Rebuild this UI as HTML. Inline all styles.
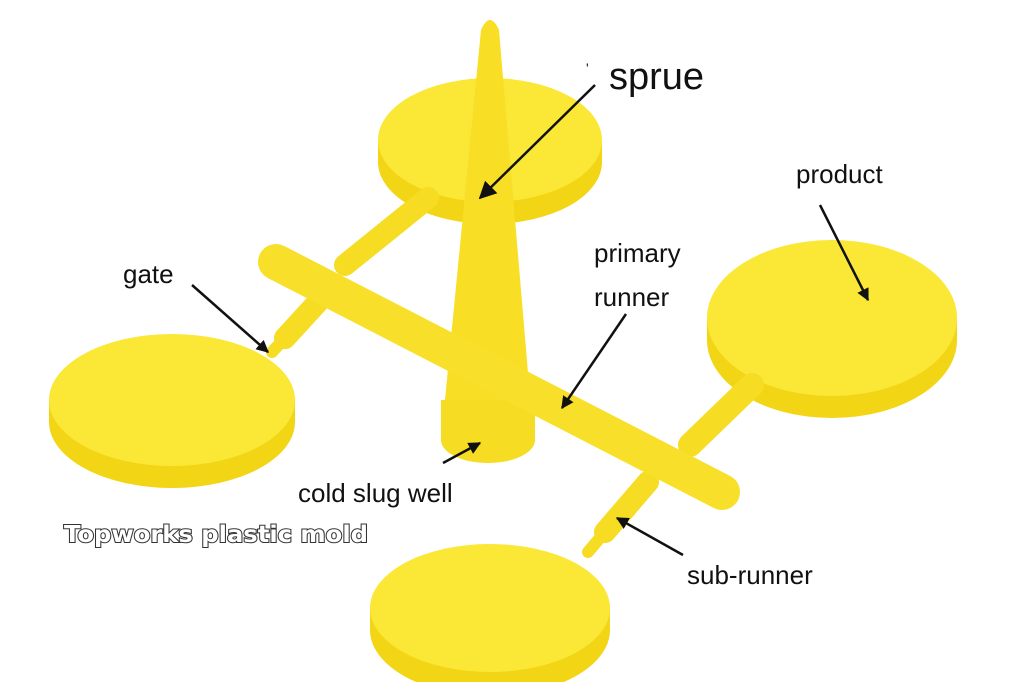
<!DOCTYPE html>
<html><head><meta charset="utf-8"><style>
html,body{margin:0;padding:0;background:#fff;}
svg{display:block}
text{font-family:"Liberation Sans","DejaVu Sans",sans-serif;fill:#111;}
</style></head><body>
<svg width="1024" height="682" viewBox="0 0 1024 682" xmlns="http://www.w3.org/2000/svg">
<defs>
<marker id="ah" viewBox="0 0 10 10" refX="9" refY="5" markerWidth="7" markerHeight="7" orient="auto"><path d="M0,0 L10,5 L0,10 z" fill="#111"/></marker>
<marker id="ah2" viewBox="0 0 10 10" refX="9" refY="5" markerWidth="5" markerHeight="5" orient="auto"><path d="M0,0 L10,5 L0,10 z" fill="#111"/></marker>
</defs>
<rect width="1024" height="682" fill="#fff"/>

<!-- top disc -->
<ellipse cx="490" cy="162" rx="112" ry="62" fill="#f2d514"/>
<rect x="378" y="140" width="224" height="22" fill="#f2d514"/>
<ellipse cx="490" cy="140" rx="112" ry="62" fill="#fbe736"/>

<!-- right disc -->
<ellipse cx="832" cy="340" rx="125" ry="78" fill="#f2d514"/>
<rect x="707" y="318" width="250" height="22" fill="#f2d514"/>
<ellipse cx="832" cy="318" rx="125" ry="78" fill="#fbe736"/>

<!-- branches -->
<g stroke-linecap="round" fill="none">
<line x1="345" y1="265" x2="428" y2="198" stroke="#f6dc22" stroke-width="22"/>
<line x1="690" y1="445" x2="752" y2="385" stroke="#f6dc22" stroke-width="24"/>
<line x1="318" y1="302" x2="285" y2="338" stroke="#f6dc22" stroke-width="22"/>
<line x1="285" y1="338" x2="272" y2="352" stroke="#f6dc22" stroke-width="12"/>
<line x1="648" y1="482" x2="605" y2="532" stroke="#f6dc22" stroke-width="22"/>
<line x1="605" y1="532" x2="588" y2="552" stroke="#f6dc22" stroke-width="12"/>
</g>

<!-- left disc -->
<ellipse cx="172" cy="422" rx="123" ry="66" fill="#f2d514"/>
<rect x="49" y="400" width="246" height="22" fill="#f2d514"/>
<ellipse cx="172" cy="400" rx="123" ry="66" fill="#fbe736"/>

<!-- bottom disc -->
<ellipse cx="490" cy="630" rx="120" ry="66" fill="#f2d514"/>
<rect x="370" y="608" width="240" height="22" fill="#f2d514"/>
<ellipse cx="490" cy="608" rx="120" ry="64" fill="#fbe736"/>

<!-- sprue -->
<path d="M481,30 Q490,10 499,30 L532,420 L443,420 Z" fill="#f8df26"/>
<!-- cold slug well -->
<rect x="441" y="400" width="94" height="40" fill="#f6dc22"/>
<ellipse cx="488" cy="440" rx="47" ry="23" fill="#f6dc22"/>

<!-- runner -->
<line x1="276" y1="262" x2="722" y2="492" stroke="#f8e02a" stroke-width="36" stroke-linecap="round"/>

<!-- arrows -->
<g stroke="#111" stroke-width="2.5" fill="none">
<line x1="595" y1="85" x2="480" y2="198" marker-end="url(#ah)"/>
<line x1="820" y1="205" x2="868" y2="300" marker-end="url(#ah2)"/>
<line x1="192" y1="285" x2="268" y2="352" marker-end="url(#ah2)"/>
<line x1="626" y1="314" x2="562" y2="408" marker-end="url(#ah2)"/>
<line x1="443" y1="463" x2="480" y2="443" marker-end="url(#ah2)"/>
<line x1="683" y1="555" x2="617" y2="518" marker-end="url(#ah2)"/>
</g>

<!-- labels -->
<text x="609" y="89" font-size="38">sprue</text>
<text x="586" y="73" font-size="14">'</text>
<text x="796" y="183" font-size="26">product</text>
<text x="594" y="262" font-size="26">primary</text>
<text x="594" y="306" font-size="26">runner</text>
<text x="123" y="283" font-size="26">gate</text>
<text x="298" y="502" font-size="26">cold slug well</text>
<text x="687" y="584" font-size="26">sub-runner</text>
<text x="64" y="542" font-size="23" font-weight="bold" textLength="304" lengthAdjust="spacingAndGlyphs" style="fill:#fff;stroke:#333;stroke-width:2;paint-order:stroke;font-family:'DejaVu Sans','Liberation Sans',sans-serif">Topworks plastic mold</text>
</svg>
</body></html>
